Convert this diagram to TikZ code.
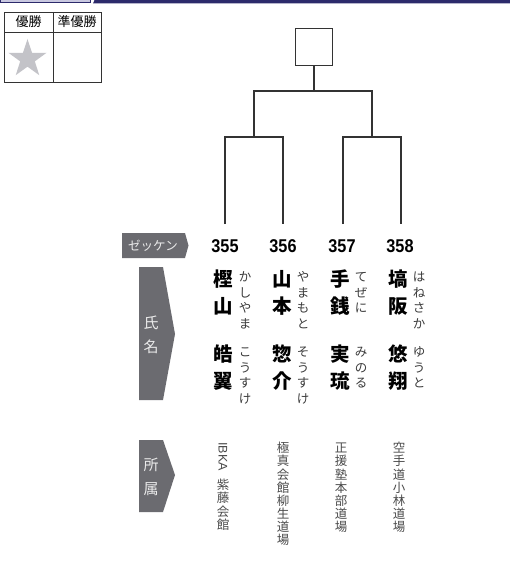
\documentclass[tikz,border=0pt]{standalone}
\usepackage{fontspec}
\setmainfont{Liberation Sans}
\newfontfamily\jp{Noto Sans CJK JP}
\newfontfamily\numfont[FakeStretch=0.88]{Liberation Sans}
\usetikzlibrary{shapes.geometric}
\definecolor{navy}{HTML}{2C2A6B}
\definecolor{lavender}{HTML}{C9C8E0}
\definecolor{taggrey}{HTML}{6B6B70}
\definecolor{stargrey}{HTML}{C3C3C8}
\definecolor{linegrey}{HTML}{333333}
\definecolor{furigrey}{HTML}{3A3A3A}
\definecolor{clubgrey}{HTML}{4A4A4A}

\begin{document}
\begin{tikzpicture}[x=1pt, y=-1pt,
		bracket/.style={line width=1.6pt, draw=linegrey},
		tagshape/.style={fill=taggrey, draw=none},
		tagtext/.style={text=white!92!black, font=\jp\fontsize{15}{24.5}\selectfont, align=center, inner sep=0},
		num/.style={font=\numfont\bfseries\fontsize{18.5}{18.5}\selectfont, inner sep=0},
		kanji/.style={font=\jp\bfseries\fontsize{19.5}{27}\selectfont, align=center, inner sep=0, anchor=base, text=black},
		kana/.style={font=\jp\fontsize{12.5}{15.5}\selectfont, align=center, inner sep=0, anchor=base, text=furigrey},
		club/.style={font=\jp\fontsize{12.5}{13.1}\selectfont, align=center, inner sep=0, anchor=base, text=clubgrey}]
			%%%%% START %%%%%
			\useasboundingbox (0,0) rectangle (510,585);
			
			% top bar
			\draw[navy, line width=1pt, fill=lavender] (0,-2) rectangle (90,3);
			\fill[navy] (95,-1) -- (510,-1) -- (510,3.5) -- (93,3.5) -- cycle;
			
			% winner table
			\draw[linegrey, line width=0.8pt] (4,12) rectangle (101,82);
			\draw[linegrey, line width=0.8pt] (4,32) -- (101,32);
			\draw[linegrey, line width=0.8pt] (53,12) -- (53,82);
			\node[font=\jp\fontsize{13}{13}\selectfont, inner sep=0] (win) at (28.5,22) {優勝};
			\node[font=\jp\fontsize{13}{13}\selectfont, inner sep=0] (second) at (77,22) {準優勝};
			\node[star, star points=5, star point ratio=2.6, fill=stargrey, minimum size=40pt, inner sep=0] (winstar) at (27.5,59) {};
			
			% bracket
			\node[draw=linegrey, line width=1.6pt, minimum size=37pt, inner sep=0] (final) at (314,47) {};
			\coordinate (e355) at (225,224);
			\coordinate (e356) at (283,224);
			\coordinate (e357) at (343,224);
			\coordinate (e358) at (401,224);
			\coordinate (j1) at (254,137);
			\coordinate (j2) at (372,137);
			\coordinate (j0) at (314,91);
			\draw[bracket] (e355) |- (j1) -| (e356);
			\draw[bracket] (e357) |- (j2) -| (e358);
			\draw[bracket] (j1) |- (j0) -| (j2);
			\draw[bracket] (j0) -- (final.south);
			
			% tags
			\fill[tagshape] (122,233) -- (185,233) -- (188.5,245.5) -- (185,258) -- (122,258) -- cycle;
			\node[tagtext, font=\jp\fontsize{12.5}{12.5}\selectfont] (zekken) at (153,245.5) {ゼッケン};
			\fill[tagshape] (139,267) -- (163,267) -- (175,334) -- (163,400) -- (139,400) -- cycle;
			\node[tagtext] (shimei) at (151,335) {氏\\名};
			\fill[tagshape] (139,440) -- (163,440) -- (175,475) -- (163,512) -- (139,512) -- cycle;
			\node[tagtext] (shozoku) at (151,477) {所\\属};
			
			% numbers
			\node[num] (n355) at (225,246.5) {355};
			\node[num] (n356) at (283,246.5) {356};
			\node[num] (n357) at (342,246.5) {357};
			\node[num] (n358) at (400,246.5) {358};
			
			% names (base = last line)
			\node[kanji] (fam355) at (223,313.4) {樫\\山};
			\node[kanji] (giv355) at (223,388.4) {皓\\翼};
			\node[kana] (kfam355) at (245,328.3) {か\\し\\や\\ま};
			\node[kana] (kgiv355) at (245,403.3) {こ\\う\\す\\け};
			
			\node[kanji] (fam356) at (282,313.4) {山\\本};
			\node[kanji] (giv356) at (282,388.4) {惣\\介};
			\node[kana] (kfam356) at (303,328.3) {や\\ま\\も\\と};
			\node[kana] (kgiv356) at (303,403.3) {そ\\う\\す\\け};
			
			\node[kanji] (fam357) at (340,313.4) {手\\銭};
			\node[kanji] (giv357) at (340,388.4) {実\\琉};
			\node[kana] (kfam357) at (361,312.8) {て\\ぜ\\に};
			\node[kana] (kgiv357) at (361,387.8) {み\\の\\る};
			
			\node[kanji] (fam358) at (398,313.4) {塙\\阪};
			\node[kanji] (giv358) at (398,388.4) {悠\\翔};
			\node[kana] (kfam358) at (419,328.3) {は\\ね\\さ\\か};
			\node[kana] (kgiv358) at (419,387.8) {ゆ\\う\\と};
			
			% clubs
			\node[rotate=-90, anchor=west, inner sep=0, text=clubgrey, font=\fontsize{12.5}{12.5}\selectfont] (ibka) at (223,442) {IBKA};
			\node[club] (club355) at (223,529.1) {紫\\藤\\会\\館};
			\node[club] (club356) at (283,544.5) {極\\真\\会\\館\\柳\\生\\道\\場};
			\node[club] (club357) at (341,531.4) {正\\援\\塾\\本\\部\\道\\場};
			\node[club] (club358) at (399,531.4) {空\\手\\道\\小\\林\\道\\場};
			%%%%% END %%%%%
\end{tikzpicture}
\end{document}
